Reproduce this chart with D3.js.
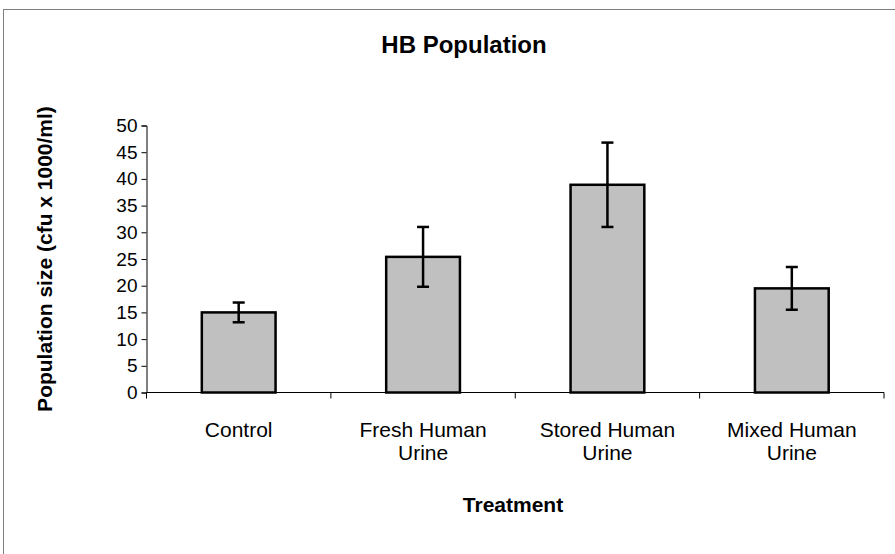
<!DOCTYPE html>
<html>
<head>
<meta charset="utf-8">
<script src="https://cdn.jsdelivr.net/npm/d3@7"></script>
<style>
  html, body { margin: 0; padding: 0; background: #fff; }
  svg { display: block; font-family: "Liberation Sans", Arial, sans-serif; }
</style>
</head>
<body>
<svg id="chart" width="895" height="554"></svg>
<script>
// Treatment groups (label lines) and measured population sizes
const categories = [["Control"], ["Fresh Human", "Urine"], ["Stored Human", "Urine"], ["Mixed Human", "Urine"]];
const means = [15.0, 25.4, 38.9, 19.5];
const errors = [1.85, 5.6, 7.9, 4.0];
const yTicks = [0, 5, 10, 15, 20, 25, 30, 35, 40, 45, 50];

const svg = d3.select("#chart");
const W = 895, H = 554;

// chart frame
svg.append("rect")
  .attr("x", 3.5).attr("y", 9.5)
  .attr("width", W + 10).attr("height", H + 10)
  .attr("fill", "none").attr("stroke", "#7f7f7f").attr("stroke-width", 1);

const plot = { left: 146.5, right: 884, top: 125.5, bottom: 392.5 };

const x = d3.scaleBand()
  .domain(d3.range(categories.length))
  .range([plot.left, plot.right])
  .padding(0);
const y = d3.scaleLinear().domain([0, 50]).range([plot.bottom, plot.top]);
const barW = x.bandwidth() * 0.4;

// title
svg.append("text")
  .attr("x", 464).attr("y", 53)
  .attr("text-anchor", "middle")
  .attr("font-size", 24).attr("font-weight", "bold")
  .text("HB Population");

// y axis
const yAxis = d3.axisLeft(y).tickValues(yTicks).tickSize(5).tickPadding(4);
const gy = svg.append("g").attr("transform", `translate(${plot.left},0)`).call(yAxis);
gy.select(".domain").attr("stroke", "#000");
gy.selectAll(".tick line").attr("stroke", "#000");
gy.selectAll(".tick text").attr("font-size", 19).attr("fill", "#000")
  .attr("font-family", "Liberation Sans, Arial, sans-serif");

// x axis: ticks at the category boundaries
const boundaries = d3.range(categories.length + 1).map(i => plot.left + i * x.step());
svg.append("line")
  .attr("x1", plot.left).attr("x2", plot.right)
  .attr("y1", plot.bottom).attr("y2", plot.bottom)
  .attr("stroke", "#000");
svg.selectAll(".xtick").data(boundaries).join("line")
  .attr("class", "xtick")
  .attr("x1", d => d).attr("x2", d => d)
  .attr("y1", plot.bottom).attr("y2", plot.bottom + 6)
  .attr("stroke", "#000");

// category labels
const lab = svg.selectAll(".cat").data(categories).join("text")
  .attr("class", "cat")
  .attr("text-anchor", "middle")
  .attr("font-size", 21)
  .attr("transform", (d, i) => `translate(${x(i) + x.bandwidth() / 2},${437})`);
lab.selectAll("tspan").data(d => d).join("tspan")
  .attr("x", 0).attr("dy", (d, i) => i === 0 ? 0 : 23)
  .text(d => d);

// bars
svg.selectAll(".bar").data(means).join("rect")
  .attr("class", "bar")
  .attr("x", (d, i) => x(i) + (x.bandwidth() - barW) / 2)
  .attr("y", d => y(d))
  .attr("width", barW)
  .attr("height", d => y(0) - y(d))
  .attr("fill", "#c0c0c0")
  .attr("stroke", "#000").attr("stroke-width", 2.5);

// error bars
const eb = svg.selectAll(".err").data(means.map((m, i) => ({ m, e: errors[i], i }))).join("g")
  .attr("class", "err")
  .attr("transform", d => `translate(${x(d.i) + x.bandwidth() / 2},0)`)
  .attr("stroke", "#000").attr("stroke-width", 2.5);
eb.append("line").attr("x1", 0).attr("x2", 0)
  .attr("y1", d => y(d.m + d.e)).attr("y2", d => y(d.m - d.e));
eb.append("line").attr("x1", -6).attr("x2", 6)
  .attr("y1", d => y(d.m + d.e)).attr("y2", d => y(d.m + d.e));
eb.append("line").attr("x1", -6).attr("x2", 6)
  .attr("y1", d => y(d.m - d.e)).attr("y2", d => y(d.m - d.e));

// axis titles
svg.append("text")
  .attr("x", 513).attr("y", 512)
  .attr("text-anchor", "middle")
  .attr("font-size", 21).attr("font-weight", "bold")
  .text("Treatment");
svg.append("text")
  .attr("transform", `translate(52,${(plot.top + plot.bottom) / 2}) rotate(-90)`)
  .attr("text-anchor", "middle")
  .attr("font-size", 21).attr("font-weight", "bold")
  .text("Population size (cfu x 1000/ml)");
</script>
</body>
</html>
